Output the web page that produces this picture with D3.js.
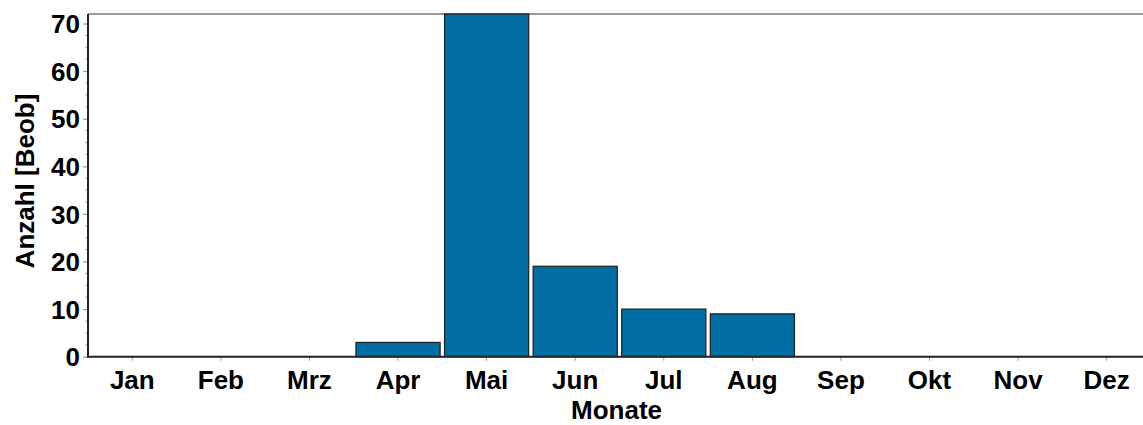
<!DOCTYPE html>
<html>
<head>
<meta charset="utf-8">
<script src="https://cdn.jsdelivr.net/npm/d3@7"></script>
<style>
  html, body { margin: 0; padding: 0; background: #fff; overflow: hidden; }
  svg { display: block; }
  text { font-family: "Liberation Sans", Arial, sans-serif; font-weight: bold; fill: #000; }
</style>
</head>
<body>
<svg id="chart" width="1143" height="425"></svg>
<script>
const months = ["Jan","Feb","Mrz","Apr","Mai","Jun","Jul","Aug","Sep","Okt","Nov","Dez"];
const counts = [0, 0, 0, 3, 72, 19, 10, 9, 0, 0, 0, 0];
const yTicks = [0, 10, 20, 30, 40, 50, 60, 70];
const yMax = 72;
const xTitle = "Monate";
const yTitle = "Anzahl [Beob]";

const svg = d3.select("#chart");
const pLeft = 88, pRight = 1151, pTop = 14, pBottom = 356.7;

const x = d3.scaleBand().domain(months).range([pLeft, pRight]).paddingInner(0.05).paddingOuter(0.025);
const y = d3.scaleLinear().domain([0, yMax]).range([pBottom, pTop]);

// top border
svg.append("line").attr("x1", pLeft).attr("x2", 1143).attr("y1", pTop).attr("y2", pTop)
  .attr("stroke", "#777").attr("stroke-width", 1.5);

// bars
svg.append("g").selectAll("rect").data(months.map((m, i) => ({m, v: counts[i]})).filter(d => d.v > 0))
  .join("rect")
  .attr("x", d => x(d.m))
  .attr("y", d => y(d.v))
  .attr("width", x.bandwidth())
  .attr("height", d => y(0) - y(d.v))
  .attr("fill", "#006ea2")
  .attr("stroke", "#1c1c1c")
  .attr("stroke-width", 1.2);

// y minor ticks
const minor = d3.range(0, yMax + 0.01, 2.5).filter(v => v % 10 !== 0);
svg.append("g").selectAll("line").data(minor).join("line")
  .attr("x1", pLeft - 2.5).attr("x2", pLeft).attr("y1", d => y(d)).attr("y2", d => y(d))
  .attr("stroke", "#999").attr("stroke-width", 1);

// y axis
const yAxis = svg.append("g").attr("transform", `translate(${pLeft},0)`)
  .call(d3.axisLeft(y).tickValues(yTicks).tickSize(5).tickPadding(3).tickSizeOuter(0));
yAxis.select(".domain").remove();
yAxis.selectAll(".tick line").attr("stroke", "#888");
yAxis.selectAll("text").style("font-size", "26px").style("font-family", "Liberation Sans, Arial, sans-serif").style("font-weight", "bold").attr("fill", "#000").attr("dy", "0.35em");

// x axis
const xAxis = svg.append("g").attr("transform", `translate(0,${pBottom})`)
  .call(d3.axisBottom(x).tickSize(4).tickPadding(10).tickSizeOuter(0));
xAxis.select(".domain").remove();
xAxis.selectAll(".tick line").attr("stroke", "#999");
xAxis.selectAll("text").style("font-size", "26px").style("font-family", "Liberation Sans, Arial, sans-serif").style("font-weight", "bold").attr("fill", "#000");

// axis lines
svg.append("line").attr("x1", pLeft).attr("x2", pLeft).attr("y1", pTop).attr("y2", pBottom + 1)
  .attr("stroke", "#222").attr("stroke-width", 2);
svg.append("line").attr("x1", pLeft - 1).attr("x2", 1143).attr("y1", pBottom).attr("y2", pBottom)
  .attr("stroke", "#222").attr("stroke-width", 2);

// titles
svg.append("text").attr("x", (pLeft + pRight) / 2 - 3).attr("y", 419)
  .attr("text-anchor", "middle").style("font-size", "26px").text(xTitle);
svg.append("text").attr("transform", `translate(34,181) rotate(-90)`)
  .attr("text-anchor", "middle").style("font-size", "26px").text(yTitle);
</script>
</body>
</html>
